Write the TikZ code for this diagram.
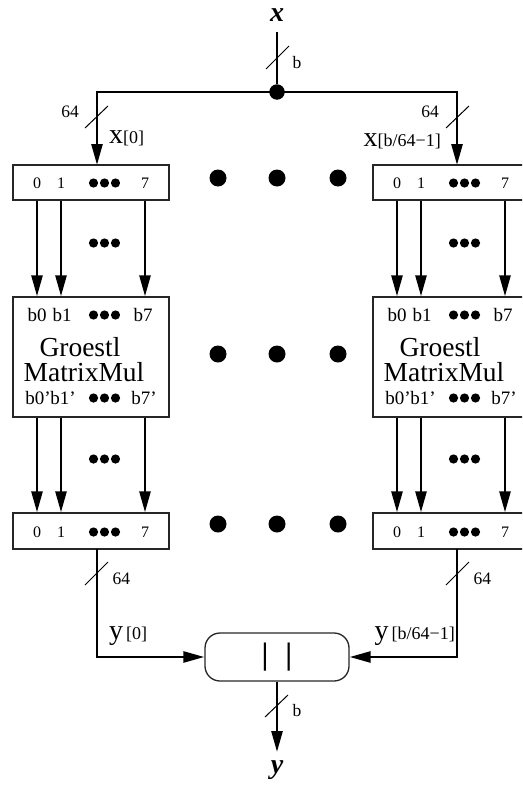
\documentclass[tikz,border=0pt]{standalone}
\usepackage{fontspec}
\setmainfont{Liberation Serif}
\usetikzlibrary{arrows.meta,positioning,calc,shapes.misc}

\newcommand\bitfont{\fontsize{16}{16}\selectfont}
\newcommand\portfont{\fontsize{19}{19}\selectfont}
\newcommand\widthfont{\fontsize{17.5}{17.5}\selectfont}
\newcommand\sigfont{\fontsize{28}{28}\selectfont}
\newcommand\idxfont{\fontsize{18}{18}\selectfont}
\newcommand\unitfont{\fontsize{27.5}{27.5}\selectfont}

\tikzset{
  wire/.style={line width=2.6pt},
  bus/.style={wire, -{Triangle[length=21pt,width=11pt]}},
  regbox/.style={draw=black!85, line width=1.3pt, minimum width=156pt, inner sep=0pt},
  bitlabel/.style={font=\bitfont, inner sep=0pt},
  portlabel/.style={font=\portfont, inner sep=0pt},
  unitlabel/.style={font=\unitfont, inner sep=0pt, anchor=base},
  bigdot/.style={circle, fill, inner sep=0pt, minimum size=17pt},
  slashmark/.style={line width=1pt},
}

\begin{document}
\begin{tikzpicture}[x=1pt, y=-1pt]
  \useasboundingbox (0,0) rectangle (522,787);
  \clip (0,0) rectangle (522,787);

  % ---------------- input x and the split ----------------
  \node[font=\sigfont\bfseries\itshape] (xin) at (277,15) {x};
  \node[bigdot, minimum size=15.5pt] (split) at (277,92) {};
  \draw[wire] (277,32) -- (split);
  \draw[slashmark] (266,69) -- (289,46);
  \node[font=\widthfont, anchor=west] at (289,63) {b};

  % ---------------- the two columns ----------------
  \foreach \col/\dx in {L/0, R/360} {
    \begin{scope}[xshift=\dx]
      % boxes
      \node[regbox, minimum height=35pt] (top\col) at (91,182.5) {};
      \node[regbox, minimum height=120pt] (mid\col) at (91,357) {};
      \node[regbox, minimum height=36pt] (bot\col) at (91,531) {};
      % bit labels
      \node[bitlabel] (top\col0) at (37,183) {0};
      \node[bitlabel] (top\col1) at (61,183) {1};
      \node[bitlabel] (top\col7) at (145,183) {7};
      \node[bitlabel] (bot\col0) at (37,532) {0};
      \node[bitlabel] (bot\col1) at (61,532) {1};
      \node[bitlabel] (bot\col7) at (145,532) {7};
      \node[portlabel] at (37,315) {b0};
      \node[portlabel] at (62,315) {b1};
      \node[portlabel] at (143,315) {b7};
      \node[portlabel] at (38,398) {b0’};
      \node[portlabel] at (63,398) {b1’};
      \node[portlabel] at (144,398) {b7’};
      \node[unitlabel] (grs\col) at (80,356) {Groestl};
      \node[unitlabel] (mmul\col) at (84,381) {MatrixMul};
      % small dot rows
      \foreach \y in {183,243,315,398,459,532}
        \foreach \k in {-11,0,11}
          \fill (104.5+\k,\y) circle (4.6);
      % bit wires
      \foreach \b in {0,1,7} {
        \draw[bus] (top\col\b |- top\col.south) -- (top\col\b |- mid\col.north);
        \draw[bus] (top\col\b |- mid\col.south) -- (top\col\b |- bot\col.north);
      }
      % 64-bit in and out
      \coordinate (in\col) at (97,165);
      \coordinate (out\col) at (97,549);
    \end{scope}
  }

  % fan-out to the columns
  \draw[bus] (split.center) -| (inL);
  \draw[bus] (split.center) -| (inR);
  \draw[slashmark] (85,128) -- (108,106);
  \draw[slashmark] (446,128) -- (469,106);
  \node[font=\widthfont] at (70,112) {64};
  \node[font=\widthfont] at (430,112) {64};
  \node[anchor=base west, inner sep=0pt] at (109,143) {\sigfont x\idxfont[0]};
  \node[anchor=base east, inner sep=0pt] at (441,146) {\sigfont x\idxfont[b/64−1]};

  % skipped columns
  \foreach \y in {178,354,524}
    \foreach \x in {218,277,338}
      \node[bigdot] at (\x,\y) {};

  % ---------------- concatenation ----------------
  \node[draw=black!85, line width=1.3pt, rounded corners=15pt, minimum width=144pt,
        minimum height=48pt, font=\fontsize{31}{31}\selectfont\bfseries] (join) at (277,657)
        {|\hspace{17pt}|};
  \draw[bus] (outL) |- (join.west);
  \draw[bus] (outR) |- (join.east);
  \draw[slashmark] (85,585) -- (108,562);
  \draw[slashmark] (446,585) -- (469,562);
  \node[font=\widthfont, anchor=west] at (109,579) {64};
  \node[font=\widthfont, anchor=west] at (470,579) {64};
  \node[anchor=base west, inner sep=0pt] at (109,639) {\sigfont y\idxfont\,[0]};
  \node[anchor=base east, inner sep=0pt] at (455,639) {\sigfont y\idxfont\,[b/64−1]};

  % ---------------- output y ----------------
  \node[font=\sigfont\bfseries\itshape] (yout) at (277,770) {y};
  \coordinate (ytip) at (277,752);
  \draw[bus] (join.south) -- (ytip);
  \draw[slashmark] (265,717) -- (288,695);
  \node[font=\widthfont, anchor=west] at (289,711) {b};
\end{tikzpicture}
\end{document}
